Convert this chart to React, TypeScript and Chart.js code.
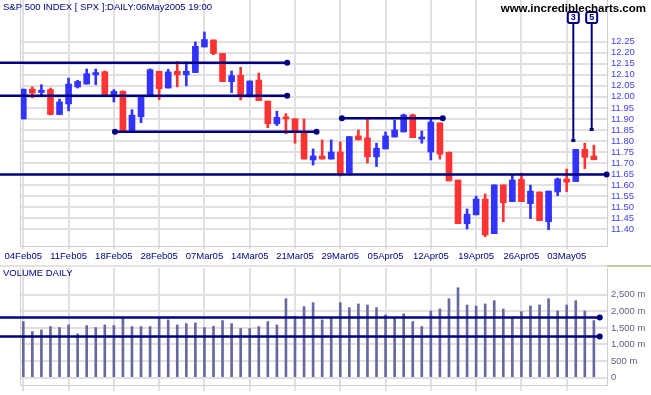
import React, { useEffect, useRef } from "react";
import { Chart, registerables } from "chart.js";
Chart.register(...registerables);

// ---------- data ----------
const dateLabels = ["04Feb05", "11Feb05", "18Feb05", "28Feb05", "07Mar05", "14Mar05", "21Mar05", "29Mar05", "05Apr05", "12Apr05", "19Apr05", "26Apr05", "03May05"];
const labelStep = 5; // one label every 5 trading days

const openP = [11.90, 12.035, 12.02, 12.033, 11.92, 11.968, 12.045, 12.058, 12.10, 12.114, 12.01, 12.025, 11.845, 11.91, 12.003, 12.116, 12.04, 12.116, 12.10, 12.11, 12.226, 12.258, 12.197, 12.069, 12.098, 12.0, 12.076, 11.981, 11.878, 11.908, 11.901, 11.844, 11.714, 11.732, 11.718, 11.75, 11.655, 11.823, 11.814, 11.728, 11.764, 11.818, 11.841, 11.918, 11.809, 11.75, 11.882, 11.749, 11.623, 11.425, 11.465, 11.537, 11.38, 11.601, 11.525, 11.626, 11.516, 11.569, 11.434, 11.569, 11.628, 11.616, 11.762, 11.732];
const highP = [12.035, 12.045, 12.055, 12.04, 11.99, 12.085, 12.075, 12.126, 12.126, 12.117, 12.033, 12.028, 11.942, 12.005, 12.127, 12.116, 12.125, 12.16, 12.158, 12.249, 12.294, 12.258, 12.197, 12.117, 12.134, 12.072, 12.108, 11.981, 11.935, 11.924, 11.901, 11.9, 11.764, 11.805, 11.805, 11.796, 11.82, 11.85, 11.9, 11.79, 11.841, 11.895, 11.922, 11.922, 11.845, 11.904, 11.882, 11.75, 11.623, 11.492, 11.55, 11.56, 11.601, 11.601, 11.646, 11.654, 11.6, 11.569, 11.573, 11.632, 11.673, 11.762, 11.79, 11.781];
const lowP = [11.90, 11.995, 12.003, 11.918, 11.919, 11.937, 12.04, 12.058, 12.055, 12.01, 11.977, 11.84, 11.84, 11.883, 12.003, 11.987, 12.04, 12.045, 12.05, 12.11, 12.226, 12.191, 12.069, 12.019, 11.986, 12.0, 11.983, 11.86, 11.87, 11.833, 11.79, 11.718, 11.691, 11.718, 11.718, 11.641, 11.655, 11.805, 11.7, 11.684, 11.764, 11.818, 11.841, 11.815, 11.79, 11.714, 11.718, 11.619, 11.425, 11.401, 11.465, 11.366, 11.38, 11.434, 11.525, 11.525, 11.448, 11.439, 11.398, 11.552, 11.57, 11.616, 11.675, 11.715];
const closeP = [12.035, 12.017, 12.03, 11.92, 11.977, 12.058, 12.07, 12.105, 12.11, 12.01, 12.025, 11.845, 11.917, 12.005, 12.123, 12.037, 12.113, 12.10, 12.116, 12.229, 12.26, 12.196, 12.069, 12.096, 12.0, 12.072, 11.983, 11.878, 11.907, 11.9, 11.84, 11.718, 11.732, 11.718, 11.75, 11.65, 11.82, 11.805, 11.728, 11.767, 11.823, 11.85, 11.918, 11.815, 11.818, 11.886, 11.74, 11.619, 11.425, 11.468, 11.537, 11.374, 11.601, 11.52, 11.623, 11.525, 11.573, 11.439, 11.573, 11.628, 11.613, 11.762, 11.726, 11.715];
const volumeM = [1690, 1390, 1440, 1540, 1510, 1590, 1320, 1570, 1510, 1590, 1570, 1790, 1540, 1540, 1540, 1810, 1740, 1590, 1630, 1650, 1510, 1550, 1720, 1630, 1480, 1480, 1540, 1690, 1590, 2380, 1840, 2140, 2260, 1740, 1790, 2260, 2110, 2220, 2190, 2110, 1890, 1810, 1920, 1690, 1540, 2010, 2070, 2380, 2710, 2190, 2160, 2220, 2320, 2070, 1810, 1990, 2160, 2190, 2380, 2010, 2190, 2320, 2010, 1720];

const priceTicks = [11.40, 11.45, 11.50, 11.55, 11.60, 11.65, 11.70, 11.75, 11.80, 11.85, 11.90, 11.95, 12.00, 12.05, 12.10, 12.15, 12.20, 12.25];
const volumeTicks = [0, 500, 1000, 1500, 2000, 2500];

// horizontal trend levels (price, start day index or null = from chart edge, end day index)
const levelValues = [12.155, 12.005, 11.842, 11.903, 11.648];
const levelStart = [null, null, 10.12, 35.18, null];
const levelEnd = [29.14, 29.14, 32.38, 46.32, 64.4];
const volLevelValues = [1814, 1239];
const volLevelEnd = [63.65, 63.65];
// numbered vertical markers
const markerLabels = ["3", "5"];
const markerDay = [60.73, 62.76];
const markerPrice = [11.80, 11.85];

const titleText = "S&P 500 INDEX [ SPX ]:DAILY:06May2005 19:00";
const siteText = "www.incrediblecharts.com";
const volumeTitle = "VOLUME DAILY";

// ---------- style ----------
const FONT = "'Liberation Sans', Arial, sans-serif";
const NAVY = "#000080";
const UP = "#3333ff";
const DOWN = "#ff3333";
const GRID = "#e0e0e0";
const BORDER = "#d0d0d0";
const VOLC = "#6868a0";
const X_MIN = -0.364;
const X_MAX = 64.45;
const FS = 9.5;

Chart.defaults.font.family = FONT;

function xAxis(showLabels: boolean, height: number, tickLen: number) {
  return {
    type: "linear",
    min: X_MIN,
    max: X_MAX,
    offset: false,
    afterBuildTicks: (s: any) => {
      s.ticks = dateLabels.map((_, k) => ({ value: k * labelStep }));
    },
    afterFit: (s: any) => {
      s.height = height;
      s.paddingLeft = 0;
      s.paddingRight = 0;
      s.paddingTop = 0;
      s.paddingBottom = 0;
    },
    ticks: {
      display: showLabels,
      autoSkip: false,
      maxRotation: 0,
      padding: 2,
      color: NAVY,
      font: { size: FS, family: FONT },
      callback: (_v: any, i: number) => dateLabels[i],
    },
    grid: { color: GRID, lineWidth: 2, offset: false, drawTicks: true, tickLength: tickLen, tickColor: GRID },
    border: { display: true, color: BORDER, width: 1 },
  };
}

function yAxis(min: number, max: number, tickValues: number[], color: string, fmt: (v: number) => string) {
  return {
    type: "linear",
    position: "right",
    min,
    max,
    afterBuildTicks: (s: any) => {
      s.ticks = tickValues.map((v) => ({ value: v }));
    },
    afterFit: (s: any) => {
      s.width = 44;
      s.paddingTop = 0;
      s.paddingBottom = 0;
      s.paddingLeft = 0;
      s.paddingRight = 0;
    },
    ticks: {
      autoSkip: false,
      padding: 4,
      color,
      font: { size: FS, family: FONT },
      callback: (v: any) => fmt(Number(v)),
    },
    grid: { color: GRID, lineWidth: 2, drawTicks: false },
    border: { display: true, color: BORDER, width: 1 },
  };
}

function dot(ctx: CanvasRenderingContext2D, x: number, y: number) {
  ctx.beginPath();
  ctx.arc(x, y, 3, 0, Math.PI * 2);
  ctx.fill();
}

function leftBorder(ctx: CanvasRenderingContext2D, area: any) {
  ctx.strokeStyle = BORDER;
  ctx.lineWidth = 1;
  ctx.beginPath();
  ctx.moveTo(Math.round(area.left) + 0.5, area.top);
  ctx.lineTo(Math.round(area.left) + 0.5, area.bottom);
  ctx.stroke();
}

const pricePlugin = {
  id: "priceDecor",
  afterDatasetsDraw(chart: any) {
    const ctx: CanvasRenderingContext2D = chart.ctx;
    const xs = chart.scales.x;
    const ys = chart.scales.y;
    ctx.save();
    leftBorder(ctx, chart.chartArea);
    // levels
    ctx.strokeStyle = NAVY;
    ctx.fillStyle = NAVY;
    ctx.lineWidth = 2.5;
    levelValues.forEach((v, i) => {
      const y = ys.getPixelForValue(v);
      const s = levelStart[i];
      const x1 = s === null ? 0 : xs.getPixelForValue(s);
      const x2 = xs.getPixelForValue(levelEnd[i]);
      ctx.beginPath();
      ctx.moveTo(x1, y);
      ctx.lineTo(x2, y);
      ctx.stroke();
      if (s !== null) dot(ctx, x1, y);
      dot(ctx, x2, y);
    });
    // markers
    markerLabels.forEach((lab, i) => {
      const x = xs.getPixelForValue(markerDay[i]);
      const yEnd = ys.getPixelForValue(markerPrice[i]);
      const boxTop = 12;
      const boxH = 11;
      const boxW = 11;
      ctx.strokeStyle = NAVY;
      ctx.lineWidth = 2;
      ctx.beginPath();
      ctx.moveTo(x, boxTop + boxH);
      ctx.lineTo(x, yEnd);
      ctx.stroke();
      ctx.fillStyle = NAVY;
      ctx.fillRect(x - 2, yEnd - 2, 4, 3);
      ctx.fillStyle = "#ffffff";
      ctx.beginPath();
      (ctx as any).roundRect(x - boxW / 2, boxTop, boxW, boxH, 2);
      ctx.fill();
      ctx.stroke();
      ctx.fillStyle = NAVY;
      ctx.font = `bold 9px ${FONT}`;
      ctx.textAlign = "center";
      ctx.textBaseline = "middle";
      ctx.fillText(lab, x, boxTop + boxH / 2 + 0.5);
    });
    // texts
    ctx.textBaseline = "alphabetic";
    ctx.textAlign = "left";
    ctx.fillStyle = NAVY;
    ctx.font = `${FS}px ${FONT}`;
    ctx.fillText(titleText, 3, 9.5);
    ctx.textAlign = "right";
    ctx.fillStyle = "#000000";
    ctx.font = `bold 11.5px ${FONT}`;
    ctx.fillText(siteText, 646, 11.7);
    ctx.restore();
  },
};

const volumePlugin = {
  id: "volDecor",
  afterDatasetsDraw(chart: any) {
    const ctx: CanvasRenderingContext2D = chart.ctx;
    const xs = chart.scales.x;
    const ys = chart.scales.y;
    const area = chart.chartArea;
    ctx.save();
    // separator between panels
    ctx.fillStyle = "#e4e4dc";
    ctx.fillRect(0, 0, area.right, 2);
    ctx.fillStyle = "#c8c6a8";
    ctx.fillRect(area.right, 0, chart.width - area.right, 2);
    leftBorder(ctx, area);
    // levels
    ctx.strokeStyle = NAVY;
    ctx.fillStyle = NAVY;
    ctx.lineWidth = 2.5;
    volLevelValues.forEach((v, i) => {
      const y = ys.getPixelForValue(v);
      const x2 = xs.getPixelForValue(volLevelEnd[i]);
      ctx.beginPath();
      ctx.moveTo(0, y);
      ctx.lineTo(x2, y);
      ctx.stroke();
      dot(ctx, x2, y);
    });
    ctx.fillStyle = NAVY;
    ctx.font = `${FS}px ${FONT}`;
    ctx.textAlign = "left";
    ctx.textBaseline = "alphabetic";
    ctx.fillText(volumeTitle, 3, 11);
    ctx.restore();
  },
};

export default function App() {
  const priceRef = useRef<HTMLCanvasElement>(null);
  const volRef = useRef<HTMLCanvasElement>(null);

  useEffect(() => {
    const days = openP.map((_, i) => i);
    const colors = days.map((i) => (closeP[i] >= openP[i] ? UP : DOWN));

    const priceChart = new Chart(priceRef.current as HTMLCanvasElement, {
      type: "bar",
      data: {
        datasets: [
          {
            data: days.map((i) => ({ x: i, y: [lowP[i], highP[i]] })) as any,
            backgroundColor: colors,
            barThickness: 2,
            grouped: false,
          } as any,
          {
            data: days.map((i) => ({ x: i, y: [openP[i], closeP[i]] })) as any,
            backgroundColor: colors,
            barThickness: 6,
            minBarLength: 2,
            grouped: false,
          } as any,
        ],
      },
      options: {
        animation: false,
        responsive: false,
        events: [],
        layout: { padding: { left: 20, top: 0, right: 0, bottom: 0 } },
        plugins: { legend: { display: false }, tooltip: { enabled: false }, title: { display: false } },
        scales: {
          x: xAxis(true, 19, 3) as any,
          y: yAxis(11.324, 12.439, priceTicks, "#4040ff", (v) => v.toFixed(2)) as any,
        },
      },
      plugins: [pricePlugin],
    });

    const volChart = new Chart(volRef.current as HTMLCanvasElement, {
      type: "bar",
      data: {
        datasets: [
          {
            data: days.map((i) => ({ x: i, y: volumeM[i] })) as any,
            backgroundColor: VOLC,
            barThickness: 2,
          } as any,
        ],
      },
      options: {
        animation: false,
        responsive: false,
        events: [],
        layout: { padding: { left: 20, top: 3, right: 0, bottom: 0 } },
        plugins: { legend: { display: false }, tooltip: { enabled: false } },
        scales: {
          x: xAxis(false, 10, 6) as any,
          y: yAxis(-220, 3304, volumeTicks, "#606080", (v) => (v === 0 ? "0" : v.toLocaleString("en-US") + " m")) as any,
        },
      },
      plugins: [volumePlugin],
    });

    return () => {
      priceChart.destroy();
      volChart.destroy();
    };
  }, []);

  return (
    <div style={{ position: "fixed", left: 0, top: 0, width: 651, height: 395, background: "#ffffff" }}>
      <canvas ref={priceRef} width={651} height={265} style={{ position: "absolute", left: 0, top: 0, width: 651, height: 265 }} />
      <canvas ref={volRef} width={651} height={130} style={{ position: "absolute", left: 0, top: 265, width: 651, height: 130 }} />
    </div>
  );
}
